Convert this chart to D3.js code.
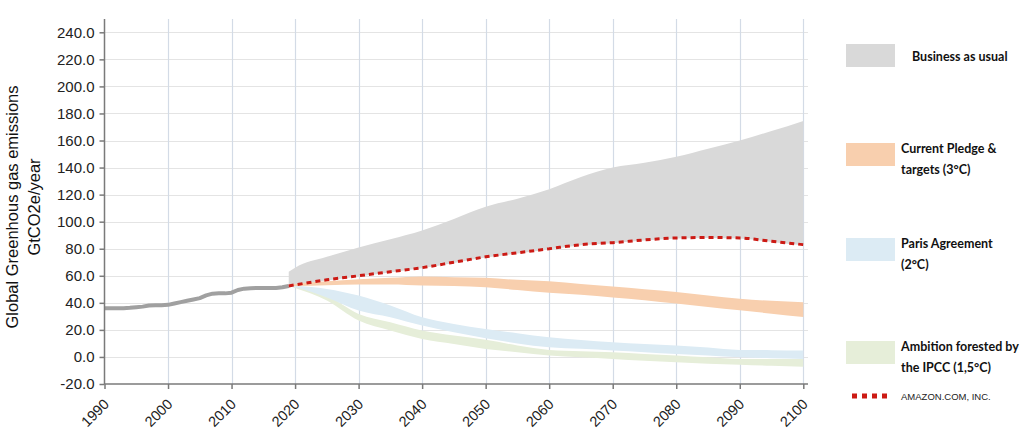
<!DOCTYPE html>
<html>
<head>
<meta charset="utf-8">
<script src="https://cdn.jsdelivr.net/npm/d3@7"></script>
<style>
  body { margin: 0; background: #fff; }
  svg { display: block; }
  .tick text { font-family: "Liberation Sans", Arial, sans-serif; }
</style>
</head>
<body>
<svg id="chart" width="1024" height="434"></svg>
<script>
// historical emissions, GtCO2e/year
var histYears = d3.range(1990, 2020);
var histValues = [36, 36, 36, 36, 36.3, 36.8, 37.2, 38, 38.2, 38.3,
                  38.5, 39.5, 40.5, 41.5, 42.5, 43.5, 45.5, 46.8, 47, 47,
                  47.5, 49.5, 50.5, 50.8, 51, 51, 51, 51, 51.5, 52.5];

// scenario bands
var projYears  = [2019, 2020, 2025, 2030, 2035, 2040, 2045, 2050, 2055, 2060, 2065, 2070, 2075, 2080, 2085, 2090, 2095, 2100];
var bauLow     = [52.5, 53.3, 56.5, 59.5, 62.5, 65.5, 69.5, 73.5, 76.5, 79.5, 82.5, 84, 86, 87.5, 88, 87.5, 85, 82.5];
var bauHigh    = [63, 66, 74, 81, 87, 93.5, 102, 111, 117, 124, 133, 140, 143.5, 148, 154, 160, 167, 174.5];
var pledgeLow  = [52.5, 52.5, 53, 53.5, 53.5, 52.8, 52.5, 51.5, 49.5, 47.5, 46, 44, 42, 39.5, 37, 34.5, 32, 29.5];
var pledgeHigh = [52.5, 54, 56, 57.5, 58.5, 59.5, 59, 58.5, 57, 56, 54, 52, 50, 48, 45.5, 43, 41.5, 40.5];
var parisLow   = [52.5, 51.5, 44, 34.3, 29.3, 23.2, 18.2, 13.8, 10, 7.1, 6, 4.7, 3.5, 2.2, 1, -0.3, -1, -1.5];
var parisHigh  = [52.5, 52.5, 50.3, 45.4, 38, 29.3, 24.4, 20.7, 17.5, 14.5, 12.5, 10.8, 9.5, 8.4, 7, 5.2, 5, 4.7];
var ipccLow    = [52.5, 51, 41.7, 26.9, 19.5, 13.3, 9.6, 5.9, 3.5, 1, -0.3, -1.5, -2.8, -4, -5, -5.7, -6.5, -7.2];
var ipccHigh   = [52.5, 52, 45.4, 31.8, 25.6, 19.5, 15.8, 12.7, 8.5, 5.2, 4.2, 3.4, 2.2, 1, -0.3, -1.5, -1.5, -1.5];
var amazon     = [52.5, 53.3, 57, 60, 63, 66, 70, 74, 77, 80, 83, 84.5, 86.5, 88, 88.3, 88, 85.5, 83];

var yTicks = d3.range(-20, 241, 20);
var xTicks = d3.range(1990, 2101, 10);

var legendNames = [
  ["Business as usual"],
  ["Current Pledge &", "targets (3°C)"],
  ["Paris Agreement", "(2°C)"],
  ["Ambition forested by", "the IPCC (1,5°C)"]
];
var legendColors = ["#d9d9d9", "#f8cfae", "#dcebf4", "#e6eed9"];
var amazonLabel = "AMAZON.COM, INC.";

var svg = d3.select("#chart");
var x = d3.scaleLinear().domain([1990, 2100]).range([104.5, 803.3]);
var y = d3.scaleLinear().domain([-20, 240]).range([384, 32.3]);
var xEnd = 808, yTop = 19;

// grid
var grid = svg.append("g");
grid.selectAll("line.h").data(yTicks.filter(function(d){ return d > -20; })).enter()
  .append("line").attr("class", "h")
  .attr("x1", x(1990)).attr("x2", xEnd)
  .attr("y1", function(d){ return Math.round(y(d)) + 0.5; })
  .attr("y2", function(d){ return Math.round(y(d)) + 0.5; })
  .attr("stroke", "#e4e4e4").attr("stroke-width", 1.2);
grid.selectAll("line.v").data(xTicks.filter(function(d){ return d > 1990; })).enter()
  .append("line").attr("class", "v")
  .attr("x1", function(d){ return Math.round(x(d)) + 0.5; })
  .attr("x2", function(d){ return Math.round(x(d)) + 0.5; })
  .attr("y1", yTop).attr("y2", y(-20))
  .attr("stroke", "#d3dbe6").attr("stroke-width", 1.2);

// bands
function band(lo, hi, color){
  var a = d3.area()
    .x(function(d, i){ return x(projYears[i]); })
    .y0(function(d, i){ return y(lo[i]); })
    .y1(function(d, i){ return y(hi[i]); })
    .curve(d3.curveMonotoneX);
  svg.append("path").datum(projYears).attr("d", a).attr("fill", color);
}
band(bauLow, bauHigh, legendColors[0]);
band(pledgeLow, pledgeHigh, legendColors[1]);
band(ipccLow, ipccHigh, legendColors[3]);
band(parisLow, parisHigh, legendColors[2]);

// historical line
svg.append("path").datum(histValues)
  .attr("d", d3.line()
    .x(function(d, i){ return x(histYears[i]); })
    .y(function(d){ return y(d); }))
  .attr("fill", "none").attr("stroke", "#a0a0a0").attr("stroke-width", 4)
  .attr("stroke-linejoin", "round");

// amazon line
svg.append("path").datum(amazon)
  .attr("d", d3.line()
    .x(function(d, i){ return x(projYears[i]); })
    .y(function(d){ return y(d); })
    .curve(d3.curveMonotoneX))
  .attr("fill", "none").attr("stroke", "#cc1a14").attr("stroke-width", 3)
  .attr("stroke-dasharray", "5,4");

// axes
var fmt = function(d){ return d3.format(".1f")(d).replace("\u2212", "-"); };
var yAxis = svg.append("g").attr("transform", "translate(" + x(1990) + ",0)")
  .call(d3.axisLeft(y).tickValues(yTicks).tickFormat(fmt).tickSize(5).tickPadding(5));
yAxis.select(".domain").attr("d", "M0," + yTop + "V" + y(-20));
yAxis.selectAll(".tick text").attr("font-size", 15).attr("fill", "#222");

var xAxis = svg.append("g").attr("transform", "translate(0," + y(-20) + ")")
  .call(d3.axisBottom(x).tickValues(xTicks).tickFormat(d3.format("d")).tickSize(5));
xAxis.select(".domain").attr("d", "M" + x(1990) + ",0H" + xEnd);
xAxis.selectAll(".tick text")
  .attr("font-size", 14.5).attr("fill", "#222")
  .attr("text-anchor", "end").attr("dy", null).attr("y", 0)
  .attr("transform", "translate(5,21) rotate(-45)");
svg.selectAll(".domain, .tick line").attr("stroke", "#7a7a7a").attr("stroke-width", 1.5);

// y title
var title = svg.append("text")
  .attr("transform", "translate(18,207) rotate(-90)")
  .attr("text-anchor", "middle")
  .attr("font-family", "Liberation Sans, Arial, sans-serif")
  .attr("font-size", 16.5).attr("fill", "#111");
title.append("tspan").attr("x", 0).attr("y", 0).text("Global Greenhous gas emissions");
title.append("tspan").attr("x", 0).attr("y", 22).text("GtCO2e/year");

// legend
var legTop = [44, 143, 238, 341];
var leg = svg.append("g").attr("font-family", "Lato, Carlito, sans-serif");
legendNames.forEach(function(lines, i){
  leg.append("rect").attr("x", 846).attr("y", legTop[i]).attr("width", 49).attr("height", 23)
    .attr("fill", legendColors[i]);
  var t = leg.append("text").attr("font-size", 12.5).attr("font-weight", "bold").attr("fill", "#111");
  lines.forEach(function(s, j){
    t.append("tspan").attr("x", lines.length === 1 ? 912 : 901)
      .attr("y", lines.length === 1 ? legTop[i] + 17 : legTop[i] + 10 + j * 21).text(s);
  });
});
leg.append("line").attr("x1", 852).attr("x2", 890).attr("y1", 396).attr("y2", 396)
  .attr("stroke", "#cc1a14").attr("stroke-width", 5).attr("stroke-dasharray", "5,5");
leg.append("text").attr("x", 901).attr("y", 399.5).attr("font-size", 9.5)
  .attr("font-family", "Liberation Sans, Arial, sans-serif").attr("fill", "#222").text(amazonLabel);
</script>
</body>
</html>
